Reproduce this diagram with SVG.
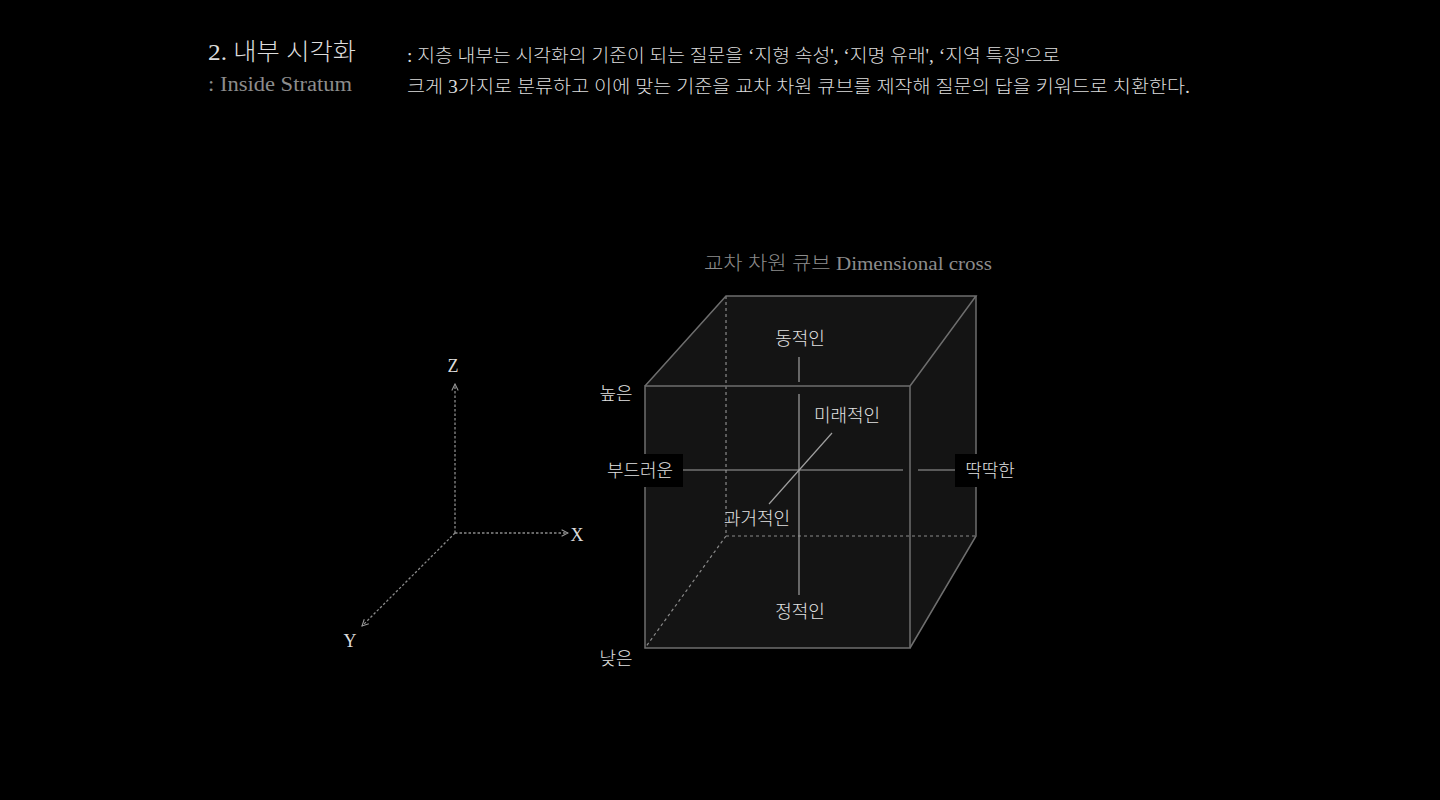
<svg xmlns="http://www.w3.org/2000/svg" width="1440" height="800" viewBox="0 0 1440 800">
<defs>
<style>
.t{font-family:"Liberation Serif","Noto Sans CJK KR",serif;fill:#dcdcdc;font-weight:300}
.k{font-family:"Liberation Serif","Noto Sans CJK KR",serif;fill:#e2e2e2;font-size:18px;font-weight:300}
.g{fill:#8c8c8c}
.edge{stroke:#6e6e6e;stroke-width:1.5;fill:none}
.hid{stroke:#8a8a8a;stroke-width:1.2;stroke-dasharray:3 3;fill:none}
.ax{stroke:#a0a0a0;stroke-width:1.2;fill:none}
.dot{stroke:#8a8a8a;stroke-width:1.3;stroke-dasharray:2.5 2;fill:none}
</style>
<marker id="chev" viewBox="0 0 10 10" refX="9" refY="5" markerWidth="8" markerHeight="8" markerUnits="userSpaceOnUse" orient="auto">
<path d="M1,1 L9,5 L1,9" fill="none" stroke="#9a9a9a" stroke-width="1.3"/>
</marker>
</defs>
<rect width="1440" height="800" fill="#000"/>

<g id="header">
<text class="t" x="208" y="60" font-size="24" textLength="148" lengthAdjust="spacingAndGlyphs">2. 내부 시각화</text>
<text class="t g" x="208" y="91" font-size="20" textLength="144" lengthAdjust="spacingAndGlyphs">: Inside Stratum</text>
<text class="t" x="407" y="62" font-size="18" textLength="653" lengthAdjust="spacingAndGlyphs">: 지층 내부는 시각화의 기준이 되는 질문을 ‘지형 속성', ‘지명 유래', ‘지역 특징'으로</text>
<text class="t" x="407" y="93" font-size="18" textLength="783" lengthAdjust="spacingAndGlyphs">크게 3가지로 분류하고 이에 맞는 기준을 교차 차원 큐브를 제작해 질문의 답을 키워드로 치환한다.</text>
</g>

<g id="cube-title">
<text class="t g" x="704" y="270" font-size="19" textLength="288" lengthAdjust="spacingAndGlyphs">교차 차원 큐브 Dimensional cross</text>
</g>

<g id="cube">
<polygon points="645,386 726,296 976,296 976,536 910,648 645,648" fill="#141414"/>
<line class="hid" x1="726" y1="296" x2="726" y2="536"/>
<line class="hid" x1="726" y1="536" x2="976" y2="536"/>
<line class="hid" x1="726" y1="536" x2="645" y2="648"/>
<rect class="edge" x="645" y="386" width="265" height="262"/>
<polyline class="edge" points="645,386 726,296 976,296 910,386"/>
<polyline class="edge" points="976,296 976,536 910,648"/>
</g>

<g id="connectors">
<line class="ax" x1="799" y1="357" x2="799" y2="382"/>
<line class="ax" x1="799" y1="394" x2="799" y2="595"/>
<line class="ax" x1="683" y1="470" x2="903" y2="470"/>
<line class="ax" x1="918" y1="470" x2="956" y2="470"/>
<line class="ax" x1="832" y1="433" x2="769" y2="504"/>
<line class="dot" x1="455" y1="533" x2="455" y2="384" marker-end="url(#chev)"/>
<line class="dot" x1="455" y1="533" x2="568" y2="533" marker-end="url(#chev)"/>
<line class="dot" x1="455" y1="533" x2="362" y2="626" marker-end="url(#chev)"/>
</g>

<g id="label-soft">
<rect x="598" y="454" width="85" height="33" fill="#000"/>
<text class="k" x="640" y="477" text-anchor="middle">부드러운</text>
</g>
<g id="label-hard">
<rect x="955" y="454" width="66" height="33" fill="#000"/>
<text class="k" x="990" y="477" text-anchor="middle">딱딱한</text>
</g>
<g id="label-dynamic"><text class="k" x="800" y="345" text-anchor="middle">동적인</text></g>
<g id="label-future"><text class="k" x="847" y="422" text-anchor="middle">미래적인</text></g>
<g id="label-past"><text class="k" x="757" y="525" text-anchor="middle">과거적인</text></g>
<g id="label-static"><text class="k" x="800" y="618" text-anchor="middle">정적인</text></g>
<g id="label-high"><text class="k" x="616" y="400" text-anchor="middle">높은</text></g>
<g id="label-low"><text class="k" x="616" y="665" text-anchor="middle">낮은</text></g>

<g id="axis-labels">
<text class="t" x="453" y="372" font-size="18" text-anchor="middle">Z</text>
<text class="t" x="577" y="541" font-size="18" text-anchor="middle">X</text>
<text class="t" x="350" y="647" font-size="18" text-anchor="middle">Y</text>
</g>
</svg>
